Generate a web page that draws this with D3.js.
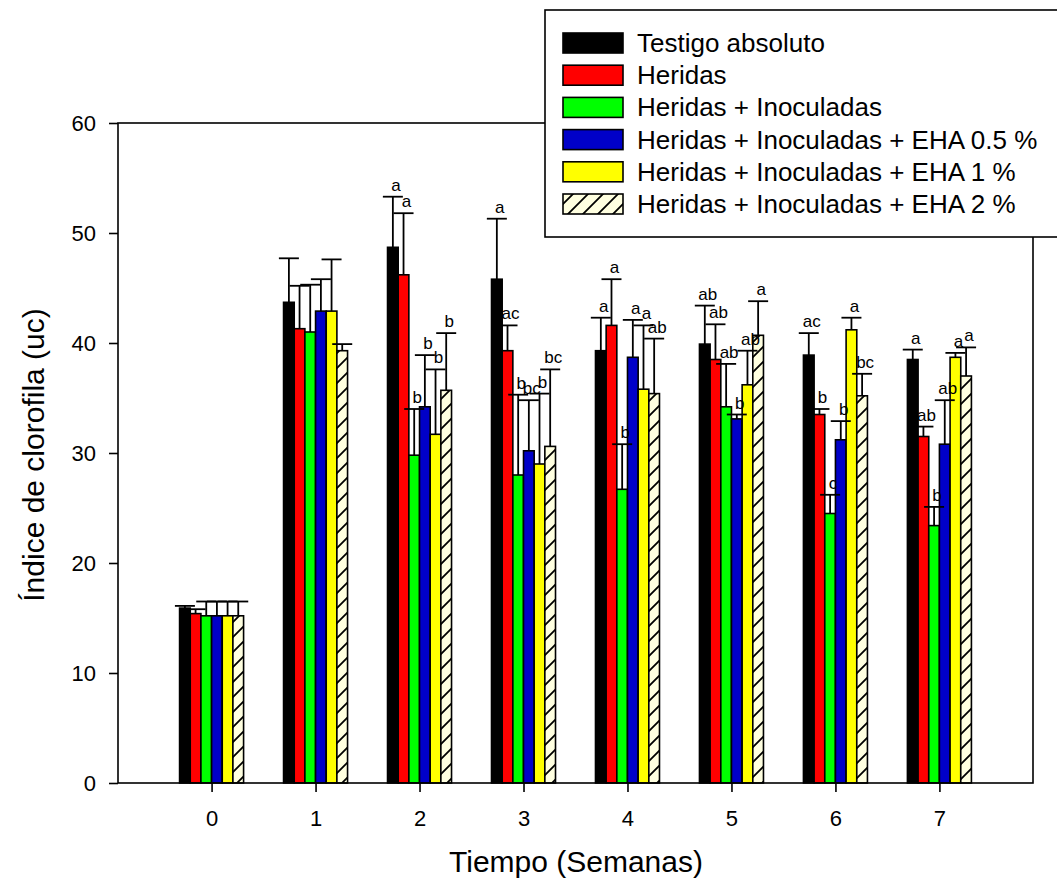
<!DOCTYPE html>
<html lang="es">
<head>
<meta charset="UTF-8">
<title>Índice de clorofila</title>
<script src="https://d3js.org/d3.v7.min.js"></script>
<style>
  body { margin: 0; background: #fff; }
  text { font-family: Arial, "Liberation Sans", sans-serif; }
</style>
</head>
<body>
<div id="chart"></div>
<script>
// Data
const weeks = [0, 1, 2, 3, 4, 5, 6, 7];
const seriesNames = [
  "Testigo absoluto",
  "Heridas",
  "Heridas + Inoculadas",
  "Heridas + Inoculadas + EHA 0.5 %",
  "Heridas + Inoculadas + EHA 1 %",
  "Heridas + Inoculadas + EHA 2 %"
];
const seriesColors = ["#000000", "#ff0000", "#00ff00", "#0000c8", "#ffff00", "url(#hatch)"];

const testigo   = [15.9, 43.7, 48.7, 45.8, 39.3, 39.9, 38.9, 38.5];
const heridas   = [15.4, 41.3, 46.2, 39.3, 41.6, 38.5, 33.5, 31.5];
const inoc      = [15.2, 41.0, 29.8, 28.0, 26.7, 34.2, 24.5, 23.4];
const eha05     = [15.2, 42.9, 34.2, 30.2, 38.7, 33.1, 31.2, 30.8];
const eha1      = [15.2, 42.9, 31.7, 29.0, 35.8, 36.2, 41.2, 38.7];
const eha2      = [15.2, 39.3, 35.7, 30.6, 35.4, 40.7, 35.2, 37.0];

// upper end of the error bars
const testigoErr = [16.1, 47.7, 53.3, 51.3, 42.3, 43.4, 40.9, 39.4];
const heridasErr = [15.8, 45.2, 51.8, 41.6, 45.8, 41.7, 34.0, 32.4];
const inocErr    = [16.5, 45.3, 34.0, 35.3, 30.8, 38.1, 26.2, 25.1];
const eha05Err   = [16.5, 45.8, 38.9, 34.8, 42.1, 33.5, 32.9, 34.8];
const eha1Err    = [16.5, 47.6, 37.6, 35.4, 41.6, 39.3, 42.3, 39.1];
const eha2Err    = [16.5, 39.9, 40.9, 37.6, 40.4, 43.8, 37.2, 39.6];

// significance letters
const testigoLet = ["", "", "a", "a", "a", "ab", "ac", "a"];
const heridasLet = ["", "", "a", "ac", "a", "ab", "b", "ab"];
const inocLet    = ["", "", "b", "b", "b", "ab", "c", "b"];
const eha05Let   = ["", "", "b", "bc", "a", "b", "b", "ab"];
const eha1Let    = ["", "", "b", "b", "a", "ab", "a", "a"];
const eha2Let    = ["", "", "b", "bc", "ab", "a", "bc", "a"];

const yTicks = [0, 10, 20, 30, 40, 50, 60];

const values = [testigo, heridas, inoc, eha05, eha1, eha2];
const errs = [testigoErr, heridasErr, inocErr, eha05Err, eha1Err, eha2Err];
const letters = [testigoLet, heridasLet, inocLet, eha05Let, eha1Let, eha2Let];

const W = 1057, H = 891;
const plotLeft = 118, plotRight = 1033, plotTop = 123, plotBottom = 783;
const font = "Arial, 'Liberation Sans', sans-serif";

const svg = d3.select("#chart").append("svg")
  .attr("width", W).attr("height", H);

// hatch pattern for EHA 2 %
const pat = svg.append("defs").append("pattern")
  .attr("id", "hatch")
  .attr("patternUnits", "userSpaceOnUse")
  .attr("width", 15).attr("height", 15);
pat.append("rect").attr("width", 15).attr("height", 15).attr("fill", "#ffffe0");
pat.append("path")
  .attr("d", "M0,15 L15,0 M-3,3 L3,-3 M12,18 L18,12")
  .attr("stroke", "#000").attr("stroke-width", 1.8);

// scales
const x = d3.scaleLinear().domain([-0.9, 7.9]).range([plotLeft, plotRight]);
const xSeries = d3.scaleBand().domain(d3.range(seriesNames.length)).range([-32, 32]);
const y = d3.scaleLinear().domain([0, 60]).range([plotBottom, plotTop]);

// rows: one per bar
const rows = [];
values.forEach((vals, s) => {
  vals.forEach((v, i) => {
    rows.push({ s: s, week: weeks[i], v: v, e: errs[s][i], lab: letters[s][i] });
  });
});

const bw = xSeries.bandwidth();
const cx = d => x(d.week) + xSeries(d.s) + bw / 2;

// bars
svg.append("g").selectAll("rect")
  .data(rows).enter().append("rect")
  .attr("x", d => x(d.week) + xSeries(d.s))
  .attr("y", d => y(d.v))
  .attr("width", bw)
  .attr("height", d => y(0) - y(d.v))
  .attr("fill", d => seriesColors[d.s])
  .attr("stroke", "#000")
  .attr("stroke-width", 1.6);

// error bars (upper only)
const eb = svg.append("g").attr("stroke", "#000").attr("stroke-width", 1.8);
eb.selectAll(".ev").data(rows).enter().append("line")
  .attr("x1", cx).attr("x2", cx)
  .attr("y1", d => y(d.v)).attr("y2", d => y(d.e));
eb.selectAll(".ec").data(rows).enter().append("line")
  .attr("x1", d => cx(d) - 10).attr("x2", d => cx(d) + 10)
  .attr("y1", d => y(d.e)).attr("y2", d => y(d.e));

// letters
svg.append("g").selectAll("text")
  .data(rows.filter(d => d.lab !== "")).enter().append("text")
  .attr("x", d => cx(d) + 3)
  .attr("y", d => y(d.e) - 6)
  .attr("text-anchor", "middle")
  .attr("font-size", 17)
  .text(d => d.lab);

// axes
const yAxis = svg.append("g")
  .attr("transform", "translate(" + plotLeft + ",0)")
  .call(d3.axisLeft(y).tickValues(yTicks).tickSize(9).tickPadding(13));
yAxis.select(".domain").remove();
yAxis.selectAll("text").attr("font-size", 22).attr("font-family", font).attr("fill", "#000");
yAxis.selectAll("line").attr("stroke-width", 1.6);

const xAxis = svg.append("g")
  .attr("transform", "translate(0," + plotBottom + ")")
  .call(d3.axisBottom(x).tickValues(weeks).tickFormat(d3.format("d")).tickSize(9).tickPadding(18));
xAxis.select(".domain").remove();
xAxis.selectAll("text").attr("font-size", 22).attr("font-family", font).attr("fill", "#000");
xAxis.selectAll("line").attr("stroke-width", 1.6);

// frame
svg.append("rect")
  .attr("x", plotLeft).attr("y", plotTop)
  .attr("width", plotRight - plotLeft).attr("height", plotBottom - plotTop)
  .attr("fill", "none").attr("stroke", "#000").attr("stroke-width", 1.6);

// axis titles
svg.append("text")
  .attr("transform", "translate(44,455) rotate(-90)")
  .attr("text-anchor", "middle")
  .attr("font-size", 30)
  .text("Índice de clorofila (uc)");

svg.append("text")
  .attr("x", 576)
  .attr("y", 872)
  .attr("text-anchor", "middle")
  .attr("font-size", 30)
  .text("Tiempo (Semanas)");

// legend
const lg = svg.append("g");
lg.append("rect")
  .attr("x", 545).attr("y", 10)
  .attr("width", 530).attr("height", 227)
  .attr("fill", "#fff").attr("stroke", "#000").attr("stroke-width", 1.6);
const items = lg.selectAll(".item").data(seriesNames).enter().append("g")
  .attr("transform", (d, i) => "translate(563," + (43 + i * 32.2) + ")");
items.append("rect")
  .attr("x", 0).attr("y", -10)
  .attr("width", 60).attr("height", 20)
  .attr("fill", (d, i) => seriesColors[i])
  .attr("stroke", "#000").attr("stroke-width", 1.6);
items.append("text")
  .attr("x", 74).attr("y", 9)
  .attr("font-size", 26)
  .text(d => d);
</script>
</body>
</html>
